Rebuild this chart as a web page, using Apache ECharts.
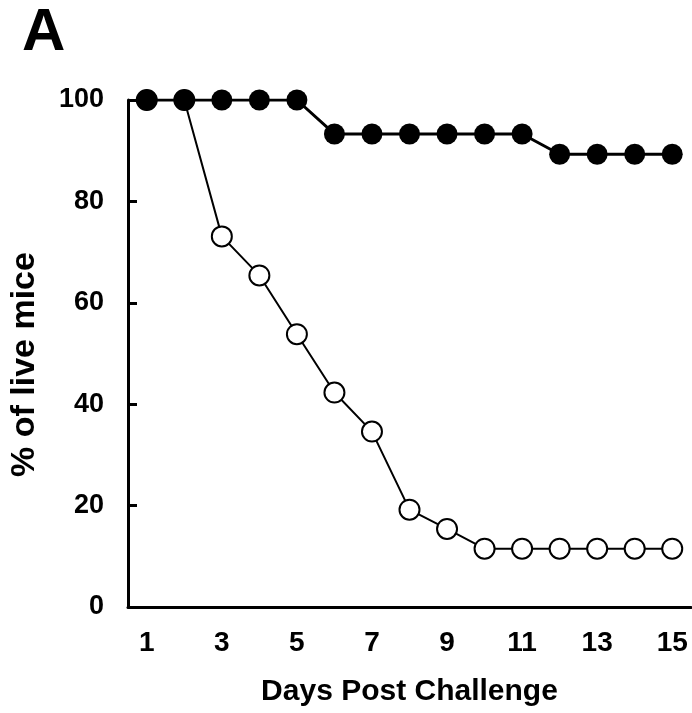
<!DOCTYPE html>
<html>
<head>
<meta charset="utf-8">
<script src="https://cdn.jsdelivr.net/npm/echarts@6/dist/echarts.min.js"></script>
<style>
html,body{margin:0;padding:0;background:#fff;}
#chart{width:692px;height:713px;}
</style>
</head>
<body>
<div id="chart"></div>
<script>
const days = ['1','2','3','4','5','6','7','8','9','10','11','12','13','14','15'];
const vaccinated = [100,100,100,100,100,93.3,93.3,93.3,93.3,93.3,93.3,89.3,89.3,89.3,89.3];
const control = [100,100,73.1,65.4,53.8,42.3,34.6,19.2,15.4,11.5,11.5,11.5,11.5,11.5,11.5];
const yTicks = [0,20,40,60,80,100];
const panelLabel = 'A';
const xTitle = 'Days Post Challenge';
const yTitle = '% of live mice';

const FONT = '"Liberation Sans", Arial, Helvetica, sans-serif';
const chart = echarts.init(document.getElementById('chart'));
chart.setOption({
  animation: false,
  backgroundColor: '#fff',
  grid: {left: 122, right: 1, top: 100, bottom: 106, containLabel: false},
  graphic: [{
    type: 'text', left: 22, top: 3,
    style: {text: panelLabel, font: 'bold 60px ' + FONT, fill: '#000'}
  }],
  xAxis: {
    type: 'category', data: days, boundaryGap: true,
    name: xTitle, nameLocation: 'middle', nameGap: 70,
    nameTextStyle: {fontFamily: FONT, fontWeight: 'bold', fontSize: 30, color: '#000'},
    axisLine: {lineStyle: {color: '#000', width: 3}},
    axisTick: {inside: true, length: 7, interval: 0, lineStyle: {color: '#000', width: 2}},
    axisLabel: {interval: 1, margin: 22, fontFamily: FONT, fontWeight: 'bold', fontSize: 28, color: '#000'},
    splitLine: {show: false}
  },
  yAxis: {
    type: 'value', min: 0, max: 100, interval: 20,
    name: yTitle, nameLocation: 'middle', nameGap: 86, nameRotate: 90,
    nameTextStyle: {fontFamily: FONT, fontWeight: 'bold', fontSize: 34, color: '#000', padding: [0, 22, 0, 0]},
    axisLine: {show: true, lineStyle: {color: '#000', width: 3}},
    axisTick: {show: true, inside: true, length: 9, lineStyle: {color: '#000', width: 3}},
    axisLabel: {margin: 24, fontFamily: FONT, fontWeight: 'bold', fontSize: 27, color: '#000',
      formatter: v => yTicks.includes(v) ? String(v) : ''},
    splitLine: {show: false}
  },
  series: [{
    name: 'control', type: 'line', data: control,
    symbol: 'circle', symbolSize: 20,
    lineStyle: {color: '#000', width: 2},
    itemStyle: {color: '#fff', borderColor: '#000', borderWidth: 2},
    z: 2
  }, {
    name: 'vaccinated', type: 'line', data: vaccinated,
    symbol: 'circle', symbolSize: 21,
    lineStyle: {color: '#000', width: 3},
    itemStyle: {color: '#000', borderColor: '#000', borderWidth: 0},
    z: 3
  }]
});
</script>
</body>
</html>
